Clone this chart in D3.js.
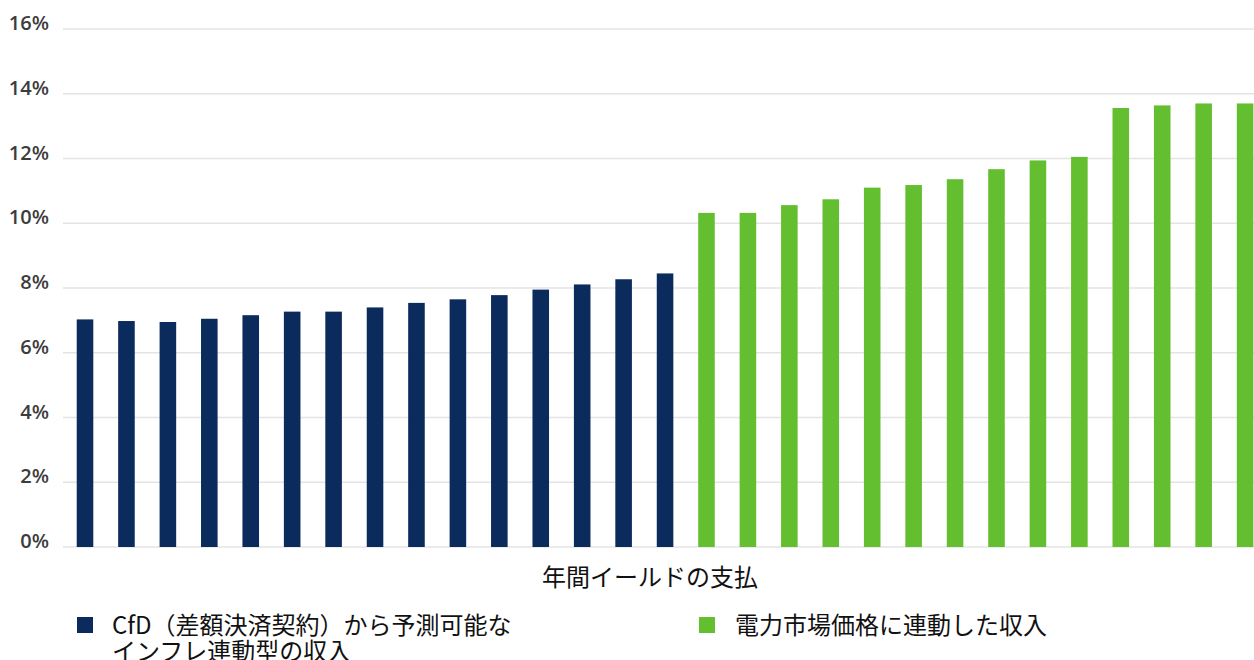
<!DOCTYPE html>
<html>
<head>
<meta charset="utf-8">
<script src="https://cdn.jsdelivr.net/npm/d3@7"></script>
<style>
  html, body { margin: 0; padding: 0; background: #ffffff; }
  svg { display: block; }
</style>
</head>
<body>
<svg id="chart" width="1254" height="660"></svg>
<script>
// ---- data ----
const cfdValues = [7.03, 6.98, 6.95, 7.05, 7.16, 7.27, 7.27, 7.40, 7.54, 7.65, 7.78, 7.95, 8.11, 8.27, 8.45];
const marketValues = [10.32, 10.32, 10.56, 10.74, 11.10, 11.18, 11.36, 11.67, 11.94, 12.05, 13.56, 13.64, 13.70, 13.70];
const yTicks = [0, 2, 4, 6, 8, 10, 12, 14, 16];
const xTitle = "年間イールドの支払";
const legendLabels = [["CfD（差額決済契約）から予測可能な", "インフレ連動型の収入"], ["電力市場価格に連動した収入"]];
const seriesColors = ["#0b2b5c", "#63bf30"];

// ---- build ----
const bars = [
  ...cfdValues.map((v, i) => ({ key: "c" + i, value: v, series: 0 })),
  ...marketValues.map((v, i) => ({ key: "m" + i, value: v, series: 1 }))
];

const svg = d3.select("#chart");
const x = d3.scaleBand()
  .domain(bars.map(d => d.key))
  .range([64.3, 1265.8])
  .paddingInner(0.6)
  .paddingOuter(0.3);
const y = d3.scaleLinear().domain([0, 16]).range([547, 29]);

// gridlines
svg.append("g")
  .selectAll("line")
  .data(yTicks)
  .join("line")
  .attr("x1", 63)
  .attr("x2", 1254)
  .attr("y1", d => y(d))
  .attr("y2", d => y(d))
  .attr("stroke", "#e4e4e4")
  .attr("stroke-width", 1.6);

// y labels
svg.append("g")
  .selectAll("text")
  .data(yTicks)
  .join("text")
  .attr("x", 49)
  .attr("y", d => y(d) + 1)
  .attr("text-anchor", "end")
  .attr("font-family", "'Open Sans', sans-serif")
  .attr("font-size", 20)
  .attr("font-weight", 600)
  .attr("fill", "#3c3c3c")
  .text(d => d + "%");

// bars
svg.append("g")
  .selectAll("rect")
  .data(bars)
  .join("rect")
  .attr("x", d => x(d.key))
  .attr("width", x.bandwidth())
  .attr("y", d => y(d.value))
  .attr("height", d => y(0) - y(d.value))
  .attr("fill", d => seriesColors[d.series]);

// x title
svg.append("text")
  .attr("x", 650)
  .attr("y", 586)
  .attr("text-anchor", "middle")
  .attr("font-family", "'Noto Sans CJK JP', sans-serif")
  .attr("font-size", 24)
  .attr("fill", "#111")
  .text(xTitle);

// legend
const legendPos = [{ x: 77, textX: 112 }, { x: 699, textX: 735 }];
legendLabels.forEach((lines, i) => {
  const g = svg.append("g");
  g.append("rect")
    .attr("x", legendPos[i].x)
    .attr("y", 617)
    .attr("width", 16)
    .attr("height", 16)
    .attr("fill", seriesColors[i]);
  const t = g.append("text")
    .attr("font-family", "'Noto Sans CJK JP', sans-serif")
    .attr("font-size", 24)
    .attr("fill", "#111");
  lines.forEach((ln, j) => {
    t.append("tspan")
      .attr("x", legendPos[i].textX)
      .attr("y", 634 + j * 26)
      .text(ln);
  });
});
</script>
</body>
</html>
